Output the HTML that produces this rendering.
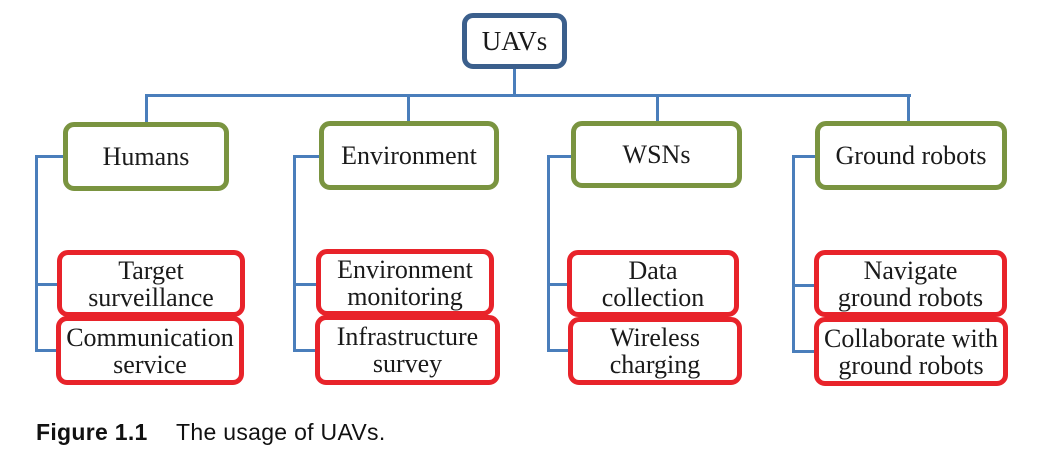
<!DOCTYPE html>
<html><head><style>
body{margin:0;width:1056px;height:471px;background:#fff;position:relative;overflow:hidden;font-family:"Liberation Serif",serif;color:#1a1a1a}
.b{position:absolute;box-sizing:border-box;border-radius:11px;background:#fff;display:flex;align-items:center;justify-content:center;text-align:center;line-height:27px;font-size:26px;white-space:nowrap}
.u{border:5px solid #3b5f8c;font-size:27px}
.g{border:5px solid #7a9440}
.r{border:5px solid #e8232a}
.l{position:absolute;background:#4a7ebb}
.cap{position:absolute;top:419px;font-family:"Liberation Sans",sans-serif;font-size:23px;letter-spacing:0.3px;color:#111}
</style></head><body>
<div class="l" style="left:513px;top:68px;width:3px;height:29px"></div>
<div class="l" style="left:145px;top:94px;width:766px;height:3px"></div>
<div class="l" style="left:145px;top:94px;width:3px;height:30px"></div>
<div class="l" style="left:407px;top:94px;width:3px;height:30px"></div>
<div class="l" style="left:656px;top:94px;width:3px;height:30px"></div>
<div class="l" style="left:907px;top:94px;width:3px;height:30px"></div>

<div class="l" style="left:35px;top:155px;width:3px;height:196px"></div>
<div class="l" style="left:35px;top:155px;width:30px;height:3px"></div>
<div class="l" style="left:35px;top:283px;width:24px;height:3px"></div>
<div class="l" style="left:35px;top:349px;width:24px;height:3px"></div>

<div class="l" style="left:293px;top:155px;width:3px;height:196px"></div>
<div class="l" style="left:293px;top:155px;width:28px;height:3px"></div>
<div class="l" style="left:293px;top:283px;width:25px;height:3px"></div>
<div class="l" style="left:293px;top:349px;width:25px;height:3px"></div>

<div class="l" style="left:547px;top:155px;width:3px;height:196px"></div>
<div class="l" style="left:547px;top:155px;width:26px;height:3px"></div>
<div class="l" style="left:547px;top:283px;width:23px;height:3px"></div>
<div class="l" style="left:547px;top:349px;width:23px;height:3px"></div>

<div class="l" style="left:792px;top:155px;width:3px;height:196px"></div>
<div class="l" style="left:792px;top:155px;width:25px;height:3px"></div>
<div class="l" style="left:792px;top:284px;width:25px;height:3px"></div>
<div class="l" style="left:792px;top:350px;width:25px;height:3px"></div>

<div class="b u" style="left:462px;top:13px;width:105px;height:56px">UAVs</div>
<div class="b g" style="left:63px;top:122px;width:166px;height:69px">Humans</div>
<div class="b g" style="left:319px;top:121px;width:180px;height:69px">Environment</div>
<div class="b g" style="left:571px;top:121px;width:171px;height:67px">WSNs</div>
<div class="b g" style="left:815px;top:121px;width:192px;height:69px">Ground robots</div>

<div class="b r" style="left:57px;top:250px;width:188px;height:67px">Target<br>surveillance</div>
<div class="b r" style="left:56px;top:316px;width:188px;height:69px">Communication<br>service</div>
<div class="b r" style="left:316px;top:249px;width:178px;height:67px">Environment<br>monitoring</div>
<div class="b r" style="left:315px;top:315px;width:185px;height:70px">Infrastructure<br>survey</div>
<div class="b r" style="left:567px;top:250px;width:172px;height:67px">Data<br>collection</div>
<div class="b r" style="left:568px;top:317px;width:174px;height:68px">Wireless<br>charging</div>
<div class="b r" style="left:814px;top:250px;width:193px;height:67px">Navigate<br>ground robots</div>
<div class="b r" style="left:814px;top:317px;width:194px;height:69px">Collaborate with<br>ground robots</div>

<div class="cap" style="left:36px;font-weight:bold">Figure 1.1</div>
<div class="cap" style="left:176px">The usage of UAVs.</div>
</body></html>
